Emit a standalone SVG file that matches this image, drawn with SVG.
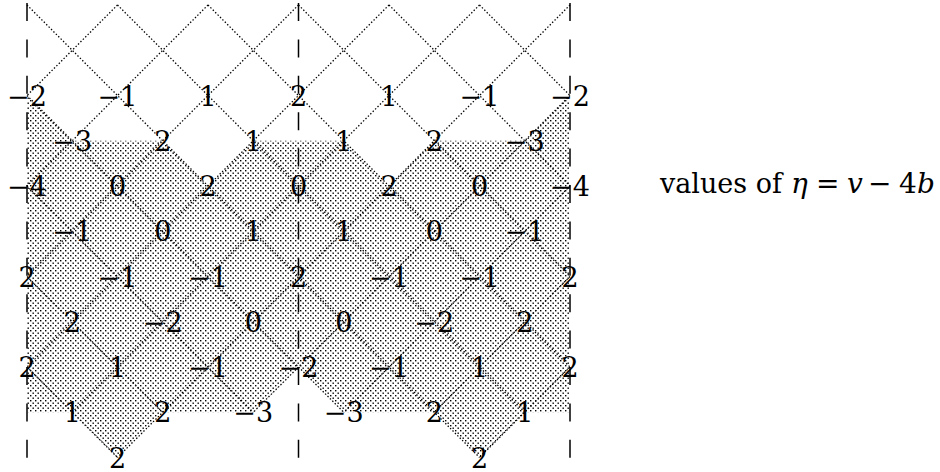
<svg xmlns="http://www.w3.org/2000/svg" width="940" height="472" viewBox="0 0 940 472">
<defs>
<pattern id="dots" width="5" height="5" patternUnits="userSpaceOnUse">
<rect x="0" y="0" width="1.4" height="1.4" fill="#000"/>
<rect x="2.5" y="2.5" width="1.4" height="1.4" fill="#000"/>
</pattern>
<style>
.lat{stroke:#000;stroke-width:1.3;stroke-dasharray:1.4 2;fill:none}
.ax{stroke:#000;stroke-width:1.5;stroke-dasharray:18 18.4;fill:none}
text{font-family:'DejaVu Serif','Liberation Serif',serif;fill:#000}
.lb text{font-size:27px;text-anchor:middle}
.cap text{font-size:28px}
.it{font-style:italic}
</style>
</defs>
<rect width="940" height="472" fill="#fff"/>
<g id="shading">
<polygon fill="url(#dots)" points="27,95.5 72.25,140.75 162.75,140.75 208,186 253.25,140.75 343.75,140.75 389,186 434.25,140.75 524.75,140.75 570,95.5 570,412.25 524.75,412.25 479.5,457.5 434.25,412.25 343.75,412.25 298.5,367 253.25,412.25 162.75,412.25 117.5,457.5 72.25,412.25 27,412.25"/>
</g>
<g id="connectors">
<line class="lat" x1="27" y1="367" x2="117.5" y2="457.5"/>
<line class="lat" x1="27" y1="276.5" x2="162.75" y2="412.25"/>
<line class="lat" x1="27" y1="186" x2="253.25" y2="412.25"/>
<line class="lat" x1="27" y1="95.5" x2="343.75" y2="412.25"/>
<line class="lat" x1="27" y1="5" x2="479.5" y2="457.5"/>
<line class="lat" x1="117.5" y1="5" x2="524.75" y2="412.25"/>
<line class="lat" x1="208" y1="5" x2="570" y2="367"/>
<line class="lat" x1="298.5" y1="5" x2="570" y2="276.5"/>
<line class="lat" x1="389" y1="5" x2="570" y2="186"/>
<line class="lat" x1="479.5" y1="5" x2="570" y2="95.5"/>
<line class="lat" x1="570" y1="367" x2="479.5" y2="457.5"/>
<line class="lat" x1="570" y1="276.5" x2="434.25" y2="412.25"/>
<line class="lat" x1="570" y1="186" x2="343.75" y2="412.25"/>
<line class="lat" x1="570" y1="95.5" x2="253.25" y2="412.25"/>
<line class="lat" x1="570" y1="5" x2="117.5" y2="457.5"/>
<line class="lat" x1="479.5" y1="5" x2="72.25" y2="412.25"/>
<line class="lat" x1="389" y1="5" x2="27" y2="367"/>
<line class="lat" x1="298.5" y1="5" x2="27" y2="276.5"/>
<line class="lat" x1="208" y1="5" x2="27" y2="186"/>
<line class="lat" x1="117.5" y1="5" x2="27" y2="95.5"/>
</g>
<g id="axes">
<line class="ax" x1="27" y1="3" x2="27" y2="458"/>
<line class="ax" x1="298.5" y1="3" x2="298.5" y2="458"/>
<line class="ax" x1="570" y1="3" x2="570" y2="458"/>
</g>
<g id="labels" class="lb">
<g id="row2">
<text x="27" y="105.5">−2</text><text x="117.5" y="105.5">−1</text><text x="208" y="105.5">1</text><text x="298.5" y="105.5">2</text><text x="389" y="105.5">1</text><text x="479.5" y="105.5">−1</text><text x="570" y="105.5">−2</text>
</g>
<g id="row3">
<text x="72.25" y="150.75">−3</text><text x="162.75" y="150.75">2</text><text x="253.25" y="150.75">1</text><text x="343.75" y="150.75">1</text><text x="434.25" y="150.75">2</text><text x="524.75" y="150.75">−3</text>
</g>
<g id="row4">
<text x="27" y="196">−4</text><text x="117.5" y="196">0</text><text x="208" y="196">2</text><text x="298.5" y="196">0</text><text x="389" y="196">2</text><text x="479.5" y="196">0</text><text x="570" y="196">−4</text>
</g>
<g id="row5">
<text x="72.25" y="241.25">−1</text><text x="162.75" y="241.25">0</text><text x="253.25" y="241.25">1</text><text x="343.75" y="241.25">1</text><text x="434.25" y="241.25">0</text><text x="524.75" y="241.25">−1</text>
</g>
<g id="row6">
<text x="27" y="286.5">2</text><text x="117.5" y="286.5">−1</text><text x="208" y="286.5">−1</text><text x="298.5" y="286.5">2</text><text x="389" y="286.5">−1</text><text x="479.5" y="286.5">−1</text><text x="570" y="286.5">2</text>
</g>
<g id="row7">
<text x="72.25" y="331.75">2</text><text x="162.75" y="331.75">−2</text><text x="253.25" y="331.75">0</text><text x="343.75" y="331.75">0</text><text x="434.25" y="331.75">−2</text><text x="524.75" y="331.75">2</text>
</g>
<g id="row8">
<text x="27" y="377">2</text><text x="117.5" y="377">1</text><text x="208" y="377">−1</text><text x="298.5" y="377">−2</text><text x="389" y="377">−1</text><text x="479.5" y="377">1</text><text x="570" y="377">2</text>
</g>
<g id="row9">
<text x="72.25" y="422.25">1</text><text x="162.75" y="422.25">2</text><text x="253.25" y="422.25">−3</text><text x="343.75" y="422.25">−3</text><text x="434.25" y="422.25">2</text><text x="524.75" y="422.25">1</text>
</g>
<g id="row10">
<text x="117.5" y="467.5">2</text><text x="479.5" y="467.5">2</text>
</g>
</g>
<g id="caption" class="cap">
<text x="660" y="193" textLength="122" lengthAdjust="spacingAndGlyphs">values of</text>
<text x="791" y="193" class="it">η</text>
<text x="816" y="193">=</text>
<text x="847" y="193" class="it">v</text>
<text x="868" y="193">−</text>
<text x="899" y="193">4</text>
<text x="917" y="193" class="it">b</text>
</g>
</svg>
